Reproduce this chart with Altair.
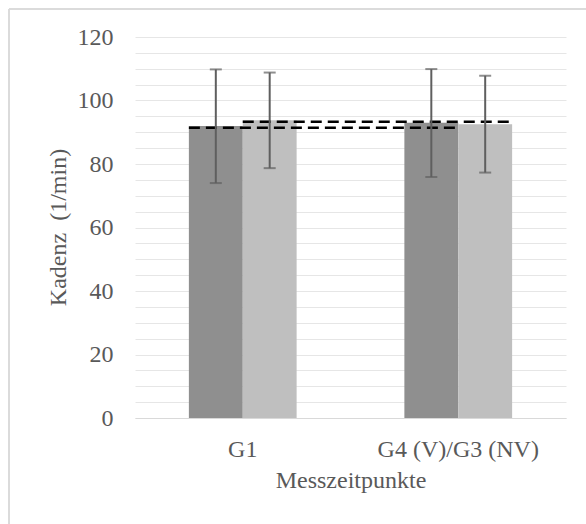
import altair as alt
import pandas as pd

# ---- data ----
categories = ["G1", "G4 (V)/G3 (NV)"]
series = ["Gruppe A", "Gruppe B"]
mean_a = [92.0, 93.0]
mean_b = [93.8, 92.5]
low_a = [74.0, 75.9]
high_a = [109.8, 109.9]
low_b = [78.7, 77.3]
high_b = [108.8, 107.8]
# dashed reference lines (x in category units: 0..2 across the axis)
ref_level = [91.4, 93.3]
ref_start = [0.25, 0.5]
ref_end = [1.5, 1.75]
y_grid_values = list(range(0, 125, 5))

rows = []
for i, c in enumerate(categories):
    rows.append(dict(cat=c, ser=series[0], val=mean_a[i], lo=low_a[i], hi=high_a[i]))
    rows.append(dict(cat=c, ser=series[1], val=mean_b[i], lo=low_b[i], hi=high_b[i]))
df = pd.DataFrame(rows)
ref_df = pd.DataFrame(dict(level=ref_level, start=ref_start, end=ref_end))

FONT = "Liberation Serif"
TXT = "#595959"
FS = 24

xscale = alt.Scale(domain=categories, paddingInner=0.5, paddingOuter=0.25)
xenc = alt.X("cat:N", scale=xscale, sort=categories,
             axis=alt.Axis(title="Messzeitpunkte", labelAngle=0, tickSize=0, ticks=False,
                           labelPadding=38, labelBaseline="alphabetic",
                           titleY=69, titleBaseline="alphabetic",
                           domainColor="#d9d9d9", domainWidth=1.2, grid=False))
yscale = alt.Scale(domain=[0, 120], nice=False)
yaxis = alt.Axis(title="Kadenz\u00a0\u00a0(1/min)", values=y_grid_values,
                 labelExpr="datum.value % 20 == 0 ? datum.label : ''",
                 tickSize=0, ticks=False, domain=False, labelPadding=22,
                 grid=True, gridColor="#e6e6e6", gridWidth=1,
                 titleX=-77, titleY=190, titleAngle=-90,
                 titleBaseline="middle", titleAlign="center")
off = alt.XOffset("ser:N", sort=series, scale=alt.Scale(paddingInner=0, paddingOuter=0))
color = alt.Color("ser:N", sort=series,
                  scale=alt.Scale(domain=series, range=["#8f8f8f", "#bfbfbf"]),
                  legend=None)
xhidden = alt.X("cat:N", scale=xscale, sort=categories, axis=None)

bars = alt.Chart(df).mark_bar().encode(
    x=xenc, xOffset=off, y=alt.Y("val:Q", scale=yscale, axis=yaxis), color=color)

err = alt.Chart(df).mark_rule(color="#5f5f5f", strokeWidth=2).encode(
    x=xhidden, xOffset=off,
    y=alt.Y("lo:Q", scale=yscale, axis=yaxis), y2="hi:Q")
cap_lo = alt.Chart(df).mark_tick(color="#5f5f5f", thickness=2, size=12, orient="horizontal").encode(
    x=xhidden, xOffset=off,
    y=alt.Y("lo:Q", scale=yscale, axis=yaxis))
cap_hi = alt.Chart(df).mark_tick(color="#5f5f5f", thickness=2, size=12, orient="horizontal").encode(
    x=xhidden, xOffset=off,
    y=alt.Y("hi:Q", scale=yscale, axis=yaxis))

dash = alt.Chart(ref_df).mark_rule(color="black", strokeWidth=2.5, strokeDash=[11, 6]).encode(
    x=alt.X("start:Q", scale=alt.Scale(domain=[0, 2], nice=False, zero=False), axis=None),
    x2="end:Q",
    y=alt.Y("level:Q", scale=yscale, axis=yaxis))

frame_left = alt.Chart(ref_df).mark_rule(color="#d9d9d9", strokeWidth=1.5).encode(
    x=alt.value(-126), y=alt.value(-28), y2=alt.value(500))
frame_top = alt.Chart(ref_df).mark_rule(color="#d9d9d9", strokeWidth=1.5).encode(
    x=alt.value(-126), x2=alt.value(460), y=alt.value(-28))

chart = alt.layer(bars, dash, err, cap_lo, cap_hi, frame_left, frame_top).resolve_scale(
    x="independent"
).properties(
    width=431, height=381,
    autosize=alt.AutoSizeParams(type="none"),
    padding={"left": 135, "top": 37, "right": 20, "bottom": 106},
    background="white",
).configure_view(stroke=None).configure_axis(
    labelFont=FONT, titleFont=FONT, labelFontSize=FS, titleFontSize=FS,
    labelColor=TXT, titleColor=TXT, titleFontWeight="normal",
)

chart.save("out.html", embed_options={"renderer": "svg", "actions": False})
